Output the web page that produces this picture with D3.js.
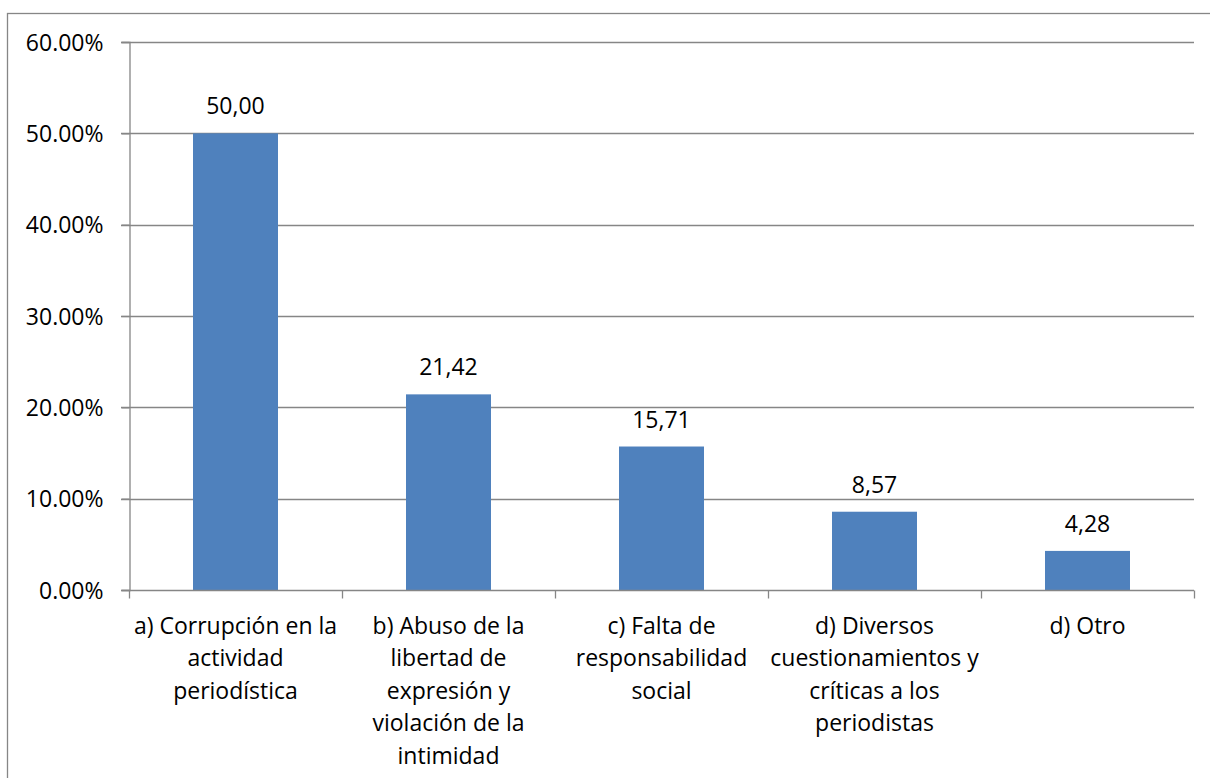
<!DOCTYPE html>
<html>
<head>
<meta charset="utf-8">
<script src="https://cdn.jsdelivr.net/npm/d3@7"></script>
<style>
  body { margin: 0; background: #fff; }
  svg { display: block; font-family: "Open Sans", "Noto Sans", sans-serif; }
</style>
</head>
<body>
<svg id="chart" width="1210" height="778"></svg>
<script>
const categories = [
  ['a) Corrupción en la', 'actividad', 'periodística'],
  ['b) Abuso de la', 'libertad de', 'expresión y', 'violación de la', 'intimidad'],
  ['c) Falta de', 'responsabilidad', 'social'],
  ['d) Diversos', 'cuestionamientos y', 'críticas a los', 'periodistas'],
  ['d) Otro'],
];
const values = [50.00, 21.42, 15.71, 8.57, 4.28];
const yTicks = [0, 10, 20, 30, 40, 50, 60];

const svg = d3.select('#chart');
const margin = { left: 129, right: 16, top: 42, bottom: 188 };
const width = 1210, height = 778;
const gridColor = '#868686';
const barColor = '#4F81BD';
const fontSize = '23px';

// outer frame (runs off the right and bottom edges)
svg.append('rect')
  .attr('x', 7.5).attr('y', 13.5)
  .attr('width', 1220).attr('height', 800)
  .style('fill', 'none')
  .style('stroke', gridColor)
  .style('stroke-width', 1.3);

const x = d3.scaleBand()
  .domain(d3.range(values.length))
  .range([margin.left, width - margin.right])
  .paddingInner(0).paddingOuter(0);

const y = d3.scaleLinear()
  .domain([0, 60])
  .range([height - margin.bottom, margin.top]);

// gridlines
svg.append('g')
  .selectAll('line')
  .data(yTicks.filter(d => d > 0))
  .join('line')
    .attr('x1', margin.left - 8)
    .attr('x2', width - margin.right)
    .attr('y1', d => Math.round(y(d)) + 0.5)
    .attr('y2', d => Math.round(y(d)) + 0.5)
    .style('stroke', gridColor)
    .style('stroke-width', 1.3);

// y axis
const yAxis = svg.append('g')
  .attr('transform', `translate(${margin.left + 0.5},0)`)
  .call(d3.axisLeft(y).tickValues(yTicks).tickSize(8).tickPadding(18)
    .tickFormat(d => d3.format('.2f')(d) + '%'));
yAxis.attr('font-size', null).attr('font-family', null);
yAxis.select('.domain').style('stroke', gridColor).style('stroke-width', 1.3);
yAxis.selectAll('.tick line').style('stroke', gridColor).style('stroke-width', 1.3);
yAxis.selectAll('.tick text')
  .style('font-size', fontSize)
  .style('fill', '#000')
  .attr('dy', '0.35em');

// bars
const barW = 85;
svg.append('g')
  .selectAll('rect')
  .data(values)
  .join('rect')
    .attr('x', (d, i) => x(i) + (x.bandwidth() - barW) / 2)
    .attr('y', d => y(d))
    .attr('width', barW)
    .attr('height', d => y(0) - y(d))
    .style('fill', barColor);

// value labels
svg.append('g')
  .selectAll('text')
  .data(values)
  .join('text')
    .attr('x', (d, i) => x(i) + x.bandwidth() / 2)
    .attr('y', d => y(d) - 19)
    .attr('text-anchor', 'middle')
    .style('font-size', fontSize)
    .style('fill', '#000')
    .text(d => d3.format('.2f')(d).replace('.', ','));

// x axis
const xAxis = svg.append('g')
  .attr('transform', `translate(0,${Math.round(y(0)) + 0.5})`);
xAxis.append('line')
  .attr('x1', margin.left - 8).attr('x2', width - margin.right)
  .style('stroke', gridColor).style('stroke-width', 1.3);
xAxis.selectAll('.xt')
  .data(d3.range(values.length + 1))
  .join('line')
    .attr('class', 'xt')
    .attr('x1', i => Math.round(margin.left + i * x.bandwidth()) + 0.5)
    .attr('x2', i => Math.round(margin.left + i * x.bandwidth()) + 0.5)
    .attr('y1', 0).attr('y2', 8)
    .style('stroke', gridColor).style('stroke-width', 1.3);

const lineH = 32.5;
xAxis.selectAll('.cat')
  .data(categories)
  .join('text')
    .attr('class', 'cat')
    .attr('text-anchor', 'middle')
    .style('font-size', fontSize)
    .style('fill', '#000')
    .each(function (lines, i) {
      const t = d3.select(this);
      lines.forEach((ln, j) => {
        t.append('tspan')
          .attr('x', x(i) + x.bandwidth() / 2)
          .attr('y', 43 + j * lineH)
          .text(ln);
      });
    });
</script>
</body>
</html>
